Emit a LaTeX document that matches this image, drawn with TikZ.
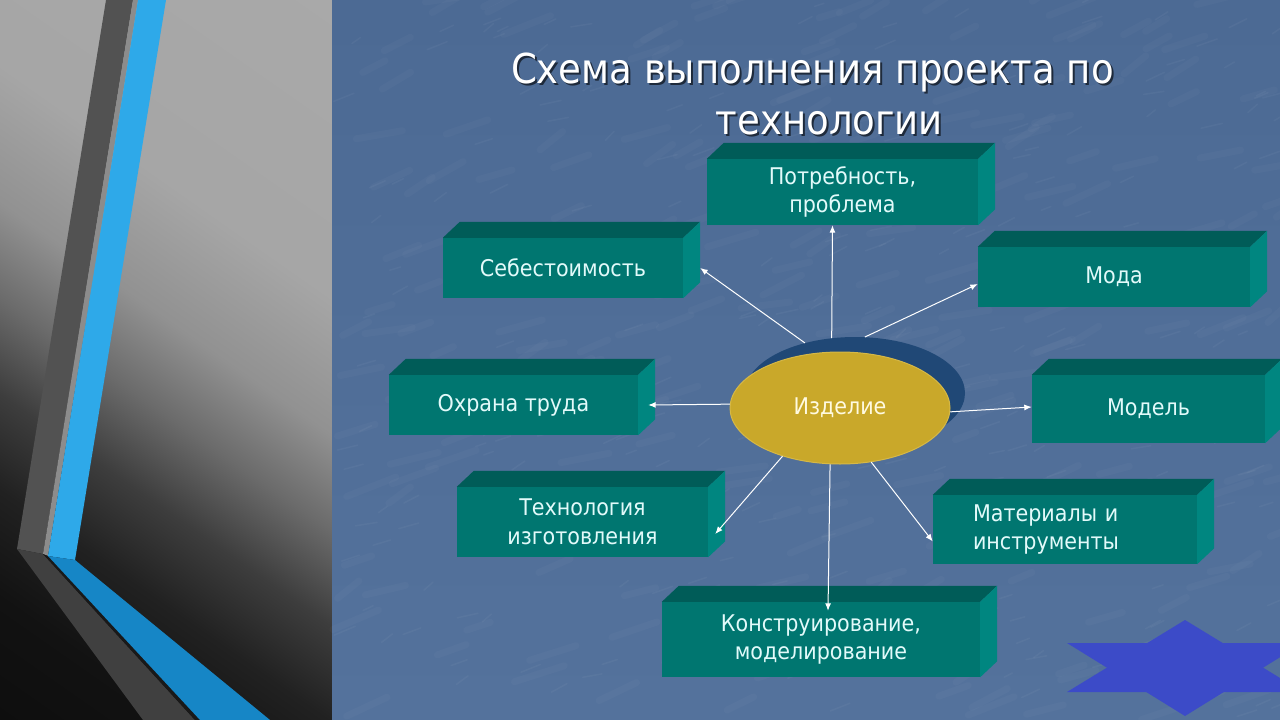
\documentclass[tikz,border=0pt]{standalone}
\usepackage{fontspec}
\setmainfont{DejaVu Sans Condensed}
\usetikzlibrary{arrows.meta}
\usetikzlibrary{calc}
\usetikzlibrary{shapes.geometric}

\definecolor{bgtop}{RGB}{76,106,148}
\definecolor{bgbot}{RGB}{84,114,156}
\definecolor{tealfront}{RGB}{0,118,112}
\definecolor{tealtop}{RGB}{0,92,88}
\definecolor{tealside}{RGB}{0,134,128}
\definecolor{boxtext}{RGB}{226,250,250}
\definecolor{izdgold}{RGB}{201,168,42}
\definecolor{izdrim}{RGB}{214,184,70}
\definecolor{izdnavy}{RGB}{32,72,118}
\definecolor{stripegray}{RGB}{82,82,82}
\definecolor{stripelight}{RGB}{140,140,140}
\definecolor{stripeblue}{RGB}{46,169,233}
\definecolor{stripedeep}{RGB}{22,134,198}
\definecolor{starblue}{RGB}{60,75,200}

\pgfdeclareverticalshading{panelgrad}{100bp}{rgb(0bp)=(.03,.03,.03); rgb(24bp)=(.07,.07,.07); rgb(32bp)=(.13,.13,.13); rgb(39bp)=(.24,.24,.24); rgb(46bp)=(.42,.42,.42); rgb(53bp)=(.57,.57,.57); rgb(63bp)=(.65,.65,.65); rgb(100bp)=(.67,.67,.67)}

\tikzset{
  prjbox/.style={fill=tealfront, text=boxtext, align=center, inner sep=0pt,
    font=\fontsize{23}{28.5}\selectfont},
  arr/.style={draw=white, line width=1pt, -{Latex[length=7.5pt,width=6pt]}},
  ttl/.style={align=center, font=\fontsize{41.2}{51}\selectfont}
}

\begin{document}
\begin{tikzpicture}[x=1pt,y=1pt,yscale=-1,xscale=1]
\useasboundingbox (0,0) rectangle (1280,720);
\clip (0,0) rectangle (1280,720);

%Shape: Rectangle [left panel]
\shade[shading=panelgrad, shading angle=-35] (0,0) rectangle (332,720);
%Shape: Polygon [stripes]
\fill[stripegray] (106,0) -- (133,0) -- (43,554) -- (17,549) -- cycle;
\fill[stripelight] (133,0) -- (138,0) -- (48,556) -- (43,554) -- cycle;
\fill[stripeblue] (138,0) -- (166,0) -- (75,560) -- (48,556) -- cycle;
\fill[black!75] (17,549) -- (43,554) -- (195,720) -- (143,720) -- cycle;
\fill[black!90] (43,554) -- (48,556) -- (200,720) -- (195,720) -- cycle;
\fill[stripedeep] (48,556) -- (75,560) -- (270,720) -- (200,720) -- cycle;

%Shape: Rectangle [right panel]
\shade[top color=bgtop, bottom color=bgbot] (332,0) rectangle (1280,720);
\pgfmathsetseed{11}
\foreach \i in {1,...,260}{
  \pgfmathsetmacro{\xa}{332+rnd*948}
  \pgfmathsetmacro{\ya}{rnd*720}
  \draw[white, opacity=0.025, line width=7pt, line cap=round] (\xa,\ya) -- ++(20+rnd*30,-6-rnd*14);
}
\foreach \i in {1,...,260}{
  \pgfmathsetmacro{\xa}{332+rnd*948}
  \pgfmathsetmacro{\ya}{rnd*720}
  \draw[white, opacity=0.04, line width=1.5pt, line cap=round] (\xa,\ya) -- ++(8+rnd*14,-3-rnd*6);
}

%Title
\node[ttl, text=black, opacity=0.6] (ttlsh) at (831.5,96) {Схема выполнения проекта по\hspace*{34pt}\\технологии};
\node[ttl, text=white] (ttl) at (829.5,94) {Схема выполнения проекта по\hspace*{34pt}\\технологии};

%Shape: Boxes
\node[prjbox, minimum width=271pt, minimum height=66pt] (potr) at (842.5,192) {Потребность,\\проблема};
\node[prjbox, minimum width=240pt, minimum height=60pt] (seb) at (563,268) {Себестоимость};
\node[prjbox, minimum width=272pt, minimum height=60pt] (moda) at (1114,277) {Мода};
\node[prjbox, minimum width=249pt, minimum height=60pt] (ohr) at (513.5,405) {Охрана труда};
\node[prjbox, minimum width=233pt, minimum height=68pt] (model) at (1148.5,409) {Модель};
\node[prjbox, minimum width=251pt, minimum height=70pt] (tech) at (582.5,522) {Технология\\изготовления};
\node[prjbox, minimum width=264pt, minimum height=69pt, align=left, text width=184pt, inner xsep=40pt] (mat) at (1065,529.5) {Материалы и\\инструменты};
\node[prjbox, minimum width=318pt, minimum height=75pt] (kon) at (821,639.5) {Конструирование,\\моделирование};

\foreach \n in {potr,seb,moda,ohr,model,tech,mat,kon}{
  \fill[tealtop] (\n.north west) -- ($(\n.north west)+(17,-16)$) -- ($(\n.north east)+(17,-16)$) -- (\n.north east) -- cycle;
  \fill[tealside] (\n.north east) -- ($(\n.north east)+(17,-16)$) -- ($(\n.south east)+(17,-16)$) -- (\n.south east) -- cycle;
}

%Shape: Ellipse
\node[ellipse, fill=izdnavy, minimum width=220pt, minimum height=112pt] (izdsh) at (855,393) {};
\node[ellipse, fill=izdgold, draw=izdrim, line width=1pt, minimum width=220pt, minimum height=112pt, text={rgb,255:red,255;green,250;blue,225}, font=\fontsize{23}{28}\selectfont] (izd) at (840,408) {Изделие};

%Straight Lines [arrows]
\draw[arr] (izdsh.113) -- ([xshift=-10pt]potr.south);
\draw[arr] (izdsh.135) -- ([xshift=17pt]seb.east);
\draw[arr] (izdsh.80) -- ([yshift=7pt]moda.west);
\draw[arr] (izd.178) -- ([xshift=10pt]ohr.east);
\draw[arr] (izd.-2) -- ([yshift=-2pt]model.west);
\draw[arr] (izd.220) -- ([xshift=7pt,yshift=12pt]tech.east);
\draw[arr] (izd.-60) -- ([yshift=12pt]mat.west);
\draw[arr] (izd.-100) -- ([xshift=7pt,yshift=9pt]kon.north);

%Shape: Star
\fill[starblue] (1185,620) -- (1303,692) -- (1067,692) -- cycle;
\fill[starblue] (1185,716) -- (1303,643) -- (1067,643) -- cycle;

\end{tikzpicture}
\end{document}
